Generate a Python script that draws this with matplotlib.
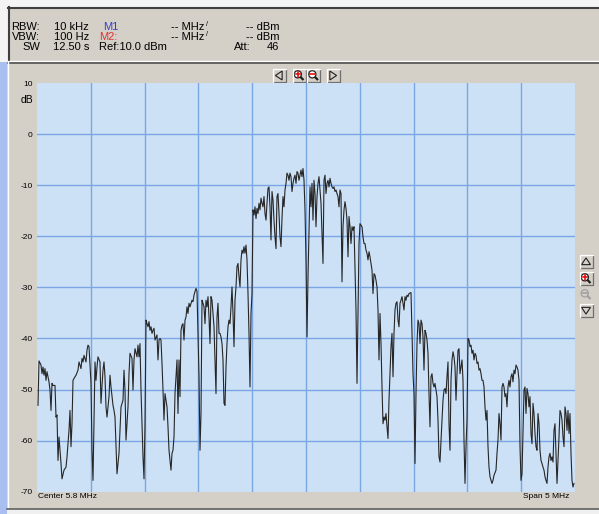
import numpy as np
import matplotlib
matplotlib.use("Agg")
import matplotlib.pyplot as plt
from matplotlib.patches import Rectangle, Circle, Polygon
from matplotlib.lines import Line2D

# ---- sweep settings ----
center_mhz = 5.8
span_mhz = 5.0
sweep_points = 538
db_ticks = [10, 0, -10, -20, -30, -40, -50, -60, -70]
db_top, db_bottom = 10, -70

# ---- measured trace: sweep point index and level (dB) ----
trace_bin = [
    1, 2, 4, 5, 6, 7, 8, 9, 10, 12, 13, 14, 15, 16, 18, 19, 20, 21, 22, 24,
    25, 27, 29, 30, 32, 33, 34, 35, 36, 38, 39, 41, 42, 44, 45, 46, 47, 49, 50, 51,
    52, 54, 55, 56, 57, 58, 59, 60, 61, 63, 64, 65, 66, 67, 68, 69, 70, 72, 73, 74,
    76, 77, 78, 79, 80, 82, 83, 84, 86, 87, 88, 89, 91, 92, 93, 95, 96, 97, 98, 100,
    101, 102, 103, 104, 106, 107, 108, 109, 110, 111, 112, 113, 114, 115, 116, 117, 118, 120, 121, 122,
    123, 124, 125, 126, 127, 128, 130, 131, 132, 134, 135, 136, 137, 138, 140, 141, 142, 143, 144, 145,
    146, 147, 148, 149, 150, 151, 152, 153, 155, 156, 157, 158, 159, 160, 161, 162, 163, 164, 165, 166,
    167, 168, 169, 170, 171, 172, 173, 174, 175, 176, 177, 178, 179, 180, 181, 182, 183, 184, 185, 186,
    187, 188, 189, 190, 191, 192, 193, 194, 195, 196, 197, 198, 199, 200, 201, 202, 203, 204, 205, 206,
    207, 208, 209, 210, 211, 212, 213, 214, 215, 216, 217, 218, 219, 220, 221, 222, 223, 224, 225, 226,
    227, 228, 229, 230, 231, 232, 233, 234, 235, 236, 237, 238, 239, 240, 241, 242, 243, 244, 245, 246,
    247, 248, 249, 250, 251, 252, 253, 254, 255, 256, 257, 258, 259, 260, 261, 262, 263, 264, 265, 266,
    267, 268, 269, 270, 271, 272, 273, 274, 275, 276, 277, 278, 279, 280, 281, 282, 283, 284, 286, 287,
    288, 289, 290, 291, 292, 293, 294, 295, 296, 297, 298, 299, 300, 301, 302, 303, 304, 305, 306, 307,
    308, 309, 310, 311, 312, 313, 314, 315, 316, 317, 318, 319, 320, 321, 322, 323, 324, 325, 326, 327,
    328, 329, 330, 331, 332, 333, 334, 335, 336, 337, 338, 339, 340, 341, 342, 343, 344, 345, 346, 347,
    348, 349, 350, 351, 352, 353, 354, 355, 356, 357, 358, 359, 360, 361, 362, 363, 364, 365, 366, 367,
    368, 369, 370, 371, 372, 374, 375, 376, 377, 378, 379, 380, 381, 382, 383, 384, 385, 386, 387, 388,
    389, 390, 391, 392, 393, 394, 395, 396, 397, 398, 399, 400, 401, 402, 403, 404, 405, 406, 407, 408,
    409, 410, 411, 412, 413, 414, 415, 416, 417, 418, 419, 420, 421, 422, 423, 424, 425, 426, 427, 428,
    429, 430, 431, 432, 433, 434, 435, 436, 437, 438, 439, 440, 441, 442, 443, 444, 445, 446, 447, 448,
    449, 450, 451, 452, 453, 455, 456, 457, 459, 460, 461, 462, 463, 464, 465, 466, 467, 468, 469, 470,
    471, 472, 473, 474, 475, 476, 477, 478, 479, 480, 481, 482, 483, 484, 485, 486, 487, 488, 489, 490,
    491, 492, 493, 494, 495, 496, 497, 498, 499, 500, 501, 502, 503, 504, 505, 506, 507, 508, 509, 510,
    511, 512, 513, 514, 515, 516, 517, 518, 519, 520, 521, 522, 523, 524, 525, 526, 527, 528, 529, 530,
    531, 532, 533, 534, 535, 536, 537,
]
trace_db = [
    -53.1, -44.4, -45.2, -46.9, -45.6, -47.2, -45.9, -48.2, -46.5, -48.5, -50.1, -54.1, -48.8, -49.2, -49.2, -55.4, -55.0, -63.9, -59.3, -64.5,
    -67.5, -65.8, -65.2, -63.2, -58.0, -54.1, -61.2, -56.7, -48.2, -47.5, -47.2, -46.2, -44.6, -45.9, -43.9, -44.6, -43.3, -44.6, -42.3, -41.3,
    -41.6, -48.8, -61.9, -67.8, -56.7, -44.6, -48.2, -45.6, -43.6, -44.6, -52.7, -49.2, -46.2, -44.6, -47.5, -53.4, -55.4, -51.4, -47.2, -49.5,
    -53.1, -54.1, -55.4, -61.2, -66.5, -62.5, -58.0, -53.4, -52.1, -46.2, -50.1, -59.9, -53.4, -46.9, -42.9, -43.9, -50.1, -44.2, -42.0, -43.6,
    -41.3, -43.6, -41.0, -50.1, -63.2, -67.5, -56.7, -36.4, -37.1, -37.7, -36.7, -38.4, -37.7, -39.0, -38.4, -38.0, -40.3, -39.3, -44.2, -40.3,
    -40.0, -40.3, -44.9, -50.1, -56.0, -50.8, -53.4, -57.3, -61.9, -65.8, -62.5, -61.9, -59.3, -50.8, -44.2, -54.7, -44.2, -51.4, -38.4, -37.4,
    -37.1, -40.3, -36.4, -35.8, -33.8, -35.1, -33.1, -33.8, -32.5, -32.8, -31.5, -30.8, -30.2, -30.8, -39.0, -47.5, -61.9, -54.7, -32.5, -33.1,
    -33.8, -37.1, -32.5, -33.8, -31.8, -35.8, -41.0, -31.8, -32.5, -35.1, -37.7, -44.2, -50.8, -35.8, -33.1, -39.0, -39.0, -39.7, -41.0, -44.2,
    -52.7, -53.1, -45.6, -41.0, -37.7, -36.4, -37.1, -33.8, -29.9, -35.1, -41.6, -32.5, -29.9, -25.9, -25.3, -27.9, -29.9, -24.6, -22.7, -23.3,
    -22.0, -23.3, -21.7, -24.6, -31.2, -39.0, -49.5, -35.1, -31.2, -14.8, -15.8, -14.2, -16.5, -14.5, -15.5, -13.5, -14.8, -12.5, -13.5, -14.2,
    -12.2, -15.5, -16.8, -13.5, -10.6, -10.3, -14.2, -20.7, -11.2, -12.9, -16.8, -20.1, -22.4, -12.2, -11.6, -15.5, -20.1, -22.0, -16.5, -12.2,
    -14.2, -10.9, -9.6, -7.6, -8.0, -9.0, -7.6, -8.3, -11.2, -9.6, -8.6, -8.0, -9.6, -7.3, -7.6, -9.0, -8.0, -7.0, -8.3, -6.7,
    -9.0, -14.8, -24.6, -39.7, -27.9, -18.8, -10.3, -14.2, -9.6, -16.8, -9.0, -11.6, -18.1, -12.2, -9.6, -8.3, -10.9, -13.5, -25.3, -9.0,
    -8.0, -11.6, -9.6, -9.0, -10.3, -8.6, -9.6, -10.3, -10.6, -10.3, -11.2, -10.9, -11.6, -12.2, -14.2, -10.9, -11.6, -28.9, -18.1, -14.8,
    -13.2, -14.5, -16.8, -24.0, -16.1, -18.1, -21.4, -18.1, -18.8, -18.1, -25.9, -34.4, -48.8, -35.1, -21.4, -17.5, -17.8, -18.1, -20.1, -21.4,
    -21.4, -22.7, -23.3, -24.6, -23.0, -24.0, -25.3, -26.6, -31.2, -27.3, -27.6, -28.6, -29.9, -34.4, -44.2, -35.1, -41.0, -49.5, -56.7, -55.4,
    -56.0, -54.7, -57.3, -59.6, -52.1, -46.9, -41.6, -39.0, -47.5, -39.0, -34.4, -33.1, -32.8, -36.4, -37.7, -33.1, -32.5, -31.8, -33.1, -34.4,
    -31.8, -32.5, -31.5, -31.8, -31.2, -31.0, -39.0, -46.9, -50.8, -64.5, -50.8, -41.0, -36.4, -37.1, -41.0, -36.4, -37.1, -39.7, -46.2, -38.4,
    -39.0, -40.3, -42.9, -50.8, -57.3, -47.5, -46.9, -48.8, -49.5, -48.8, -50.1, -51.4, -56.0, -63.2, -64.2, -59.9, -56.0, -52.1, -50.1, -49.8,
    -50.8, -47.5, -44.6, -56.7, -61.9, -48.2, -44.2, -42.6, -43.6, -45.6, -52.1, -46.9, -42.3, -42.0, -46.9, -45.6, -44.2, -48.2, -59.9, -68.4,
    -61.2, -56.0, -40.0, -40.3, -41.6, -41.3, -42.9, -42.3, -44.2, -42.9, -43.3, -44.9, -44.6, -46.2, -45.9, -46.9, -48.2, -48.2, -49.5, -53.4,
    -56.0, -54.1, -61.2, -65.2, -67.1, -68.4, -67.8, -66.8, -65.8, -62.5, -59.9, -54.7, -56.7, -59.9, -49.5, -48.8, -49.5, -51.4, -50.8, -53.4,
    -49.5, -48.2, -49.5, -47.5, -46.9, -48.5, -46.2, -46.9, -45.2, -45.6, -46.2, -48.2, -61.2, -67.8, -66.5, -58.0, -50.1, -49.5, -54.7, -49.8,
    -50.8, -53.4, -51.4, -58.6, -60.6, -52.7, -54.7, -58.6, -61.2, -61.9, -54.7, -56.7, -61.9, -63.9, -64.5, -65.2, -65.8, -67.1, -67.8, -68.4,
    -65.2, -63.2, -62.5, -63.9, -63.2, -64.2, -58.0, -56.7, -62.5, -68.4, -63.9, -59.3, -54.1, -54.7, -56.0, -59.3, -61.2, -53.4, -54.7, -58.0,
    -54.1, -58.6, -54.7, -62.5, -67.8, -69.1, -68.4,
]

# ---- readout panel text ----
label_col = ["RBW:", "VBW:", "SW"]
value_col = ["10 kHz", "100 Hz", "12.50 s"]
marker_col = ["M1", "M2:", "Ref:10.0 dBm"]
marker_colors = ["#3a3ad0", "#e03030", "#000000"]
freq_col = ["-- MHz", "-- MHz", ""]
level_col = ["-- dBm", "-- dBm", "46"]
att_label = "Att:"

W, H = 599, 514
BG = "#d4d0c8"
PLOT_BG = "#cce1f6"
GRID = "#7ba6e4"

fig = plt.figure(figsize=(W / 100, H / 100), dpi=100)
fig.patch.set_facecolor(BG)

# pixel-space overlay for the instrument frame, readout and buttons
ov = fig.add_axes([0, 0, 1, 1], zorder=0)
ov.set_xlim(0, W)
ov.set_ylim(H, 0)
ov.axis("off")

# outer strips
ov.add_patch(Rectangle((0, 0), W, 7, facecolor="#f4f4f4", edgecolor="none"))
ov.add_patch(Rectangle((0, 0), 8, 62, facecolor="#f4f4f4", edgecolor="none"))
ov.add_patch(Rectangle((0, 62), 7, H - 62, facecolor="#a9bff0", edgecolor="none"))
ov.add_patch(Rectangle((7, 509), W - 7, H - 509, facecolor="#f0f0f0", edgecolor="none"))

# readout box (sunken)
ov.add_patch(Rectangle((8, 7), W - 8, 54, facecolor=BG, edgecolor="none"))
ov.add_line(Line2D([8, W], [7.5, 7.5], color="#404040", lw=1.5))
ov.add_line(Line2D([8.5, 8.5], [7, 61], color="#404040", lw=1.5))
ov.add_line(Line2D([8, W], [60.5, 60.5], color="#ffffff", lw=1))
ov.add_line(Line2D([8, W], [62.5, 62.5], color="#505050", lw=1.2))
ov.add_line(Line2D([7.5, 7.5], [62, 509], color="#ffffff", lw=1))
ov.add_line(Line2D([7, W], [508.5, 508.5], color="#606060", lw=1.2))

# readout text
font = dict(family="Liberation Sans", fontsize=8, va="baseline")
row_y = [30, 40, 50]
for i, y in enumerate(row_y):
    ov.text(40, y, label_col[i], ha="right", **font)
    ov.text(89, y, value_col[i], ha="right", **font)
    ov.text(99 if i else 103, y, marker_col[i], ha="left", color=marker_colors[i], **font)
    if freq_col[i]:
        ov.text(204, y, freq_col[i], ha="right", **font)
        ov.text(206, y - 4, "/", ha="left", family="Liberation Sans", fontsize=5, va="baseline")
    ov.text(279, y, level_col[i], ha="right", **font)
ov.text(234, row_y[2], att_label, ha="left", **font)


def button(cx, cy, w=13, h=13, flat=False):
    x0, y0 = cx - w / 2, cy - h / 2
    ov.add_patch(Rectangle((x0, y0), w, h, facecolor=BG, edgecolor="none"))
    if not flat:
        ov.add_line(Line2D([x0, x0 + w, x0 + w], [y0 + h, y0 + h, y0], color="#707070", lw=0.9))
        ov.add_line(Line2D([x0, x0, x0 + w], [y0 + h, y0, y0], color="#ffffff", lw=0.9))


def triangle(cx, cy, direction):
    s = 4.5
    pts = {
        "left": [(cx + s * 0.7, cy - s), (cx + s * 0.7, cy + s), (cx - s * 0.8, cy)],
        "right": [(cx - s * 0.7, cy - s), (cx - s * 0.7, cy + s), (cx + s * 0.8, cy)],
        "up": [(cx - s, cy + s * 0.7), (cx + s, cy + s * 0.7), (cx, cy - s * 0.8)],
        "down": [(cx - s, cy - s * 0.7), (cx + s, cy - s * 0.7), (cx, cy + s * 0.8)],
    }[direction]
    ov.add_patch(Polygon(pts, closed=True, facecolor="none", edgecolor="#202020", lw=0.8))


def magnifier(cx, cy, sign, enabled=True):
    ink = "#202020" if enabled else "#a0a0a0"
    mark = "#e01010" if enabled else "#a0a0a0"
    r = 3.6
    ox, oy = cx - 1.2, cy - 1.2
    ov.add_patch(Circle((ox, oy), r, facecolor="#ffffff" if enabled else BG, edgecolor=ink, lw=0.9))
    ov.add_line(Line2D([ox + r * 0.7, ox + r * 0.7 + 3.2], [oy + r * 0.7, oy + r * 0.7 + 3.2],
                       color=ink, lw=1.6, solid_capstyle="butt"))
    ov.add_line(Line2D([ox - 2.2, ox + 2.2], [oy, oy], color=mark, lw=1.2))
    if sign == "+":
        ov.add_line(Line2D([ox, ox], [oy - 2.2, oy + 2.2], color=mark, lw=1.2))


# horizontal zoom/scroll buttons above the plot
button(279, 75.5); triangle(279, 75.5, "left")
button(299, 75.5); magnifier(299, 75.5, "+")
button(313.5, 75.5); magnifier(313.5, 75.5, "-")
button(333, 75.5); triangle(333, 75.5, "right")
# vertical zoom/scroll buttons right of the plot
button(586, 261.5); triangle(586, 261.5, "up")
button(586, 278.5); magnifier(586, 278.5, "+")
button(586, 294.5, flat=True); magnifier(586, 294.5, "-", enabled=False)
button(586, 310.5); triangle(586, 310.5, "down")

# ---- spectrum plot ----
left, right, top, bottom = 37, 575, 83.3, 491.6
ax = fig.add_axes([left / W, 1 - bottom / H, (right - left) / W, (bottom - top) / H], zorder=1)
ax.set_facecolor(PLOT_BG)
f_start = center_mhz - span_mhz / 2
f_stop = center_mhz + span_mhz / 2
ax.set_xlim(f_start, f_stop)
ax.set_ylim(db_bottom, db_top)
for s in ax.spines.values():
    s.set_visible(False)

# internal graticule only
x_div = np.linspace(f_start, f_stop, 11)[1:-1]
for xv in x_div:
    ax.axvline(xv, color=GRID, lw=1.0, zorder=1)
for yv in db_ticks[1:-1]:
    ax.axhline(yv, color=GRID, lw=1.0, zorder=1)

freq = f_start + np.asarray(trace_bin) * span_mhz / sweep_points
ax.plot(freq, trace_db, color="#262626", lw=0.8, zorder=3)

ax.set_xticks([])
ax.set_yticks(db_ticks)
ax.set_yticklabels([str(v) for v in db_ticks])
ax.tick_params(axis="y", length=0, pad=3, labelsize=6)
for lab in ax.get_yticklabels():
    lab.set_family("Liberation Sans")

ov.text(27, 100, "dB", ha="center", va="center", family="Liberation Sans", fontsize=7.5)
ov.text(38, 497, f"Center {center_mhz:g} MHz", ha="left", va="center", family="Liberation Sans", fontsize=6)
ov.text(569, 497, f"Span {span_mhz:g} MHz", ha="right", va="center", family="Liberation Sans", fontsize=6)

fig.savefig("out.png", dpi=100, facecolor=fig.get_facecolor())
